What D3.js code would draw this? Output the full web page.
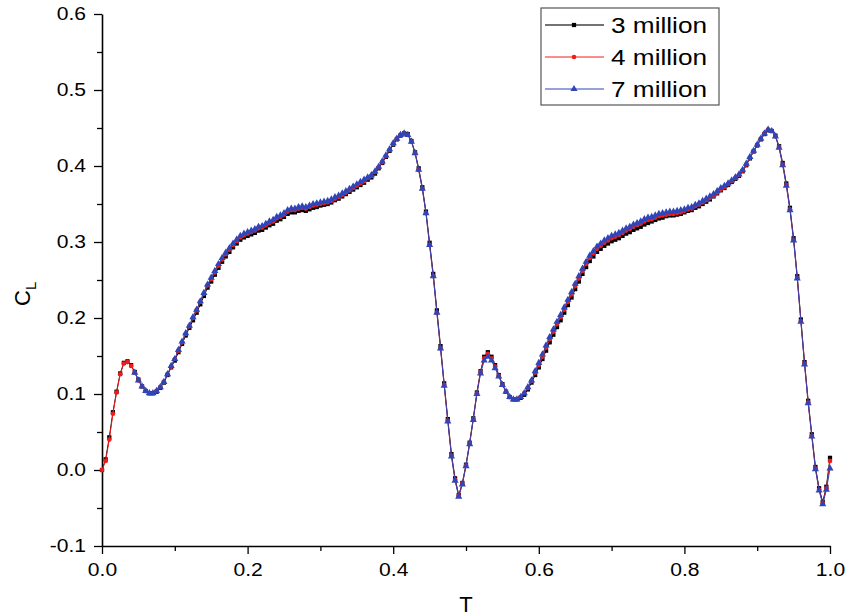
<!DOCTYPE html>
<html>
<head>
<meta charset="utf-8">
<script src="https://cdn.jsdelivr.net/npm/d3@7"></script>
<style>
  html, body { margin: 0; padding: 0; background: #fff; }
  svg { display: block; }
  text { font-family: "Liberation Sans", Arial, sans-serif; fill: #000; }
</style>
</head>
<body>
<svg id="chart" width="848" height="616"></svg>
<script>
// Lift coefficient over one period, sampled every 0.005 T
const timeStep = 0.005;
const tValues = d3.range(0, 201).map(i => +(i * timeStep).toFixed(3));

const cl3Million = [
  0.000,0.014,0.043,0.076,0.103,0.127,0.141,0.143,0.138,0.129,0.119,0.110,0.104,0.101,0.101,0.103,0.108,0.115,0.125,0.135,
  0.144,0.155,0.166,0.177,0.187,0.197,0.207,0.218,0.229,0.240,0.248,0.257,0.266,0.274,0.281,0.287,0.293,0.298,0.303,0.306,
  0.308,0.310,0.312,0.315,0.316,0.319,0.322,0.324,0.328,0.330,0.333,0.337,0.339,0.339,0.341,0.342,0.341,0.343,0.345,0.346,
  0.348,0.349,0.350,0.352,0.355,0.357,0.360,0.363,0.366,0.369,0.372,0.375,0.378,0.382,0.385,0.390,0.397,0.404,0.412,0.420,
  0.428,0.435,0.440,0.443,0.442,0.433,0.418,0.397,0.372,0.340,0.299,0.258,0.210,0.163,0.114,0.067,0.021,-0.011,-0.033,-0.017,
  0.007,0.036,0.068,0.102,0.130,0.149,0.155,0.149,0.138,0.125,0.113,0.103,0.096,0.093,0.093,0.095,0.099,0.106,0.115,0.125,
  0.135,0.146,0.157,0.168,0.178,0.188,0.197,0.207,0.217,0.227,0.238,0.248,0.258,0.267,0.275,0.281,0.287,0.291,0.295,0.298,
  0.301,0.303,0.305,0.308,0.311,0.313,0.316,0.318,0.320,0.323,0.325,0.327,0.329,0.331,0.332,0.334,0.335,0.335,0.336,0.337,
  0.339,0.341,0.342,0.345,0.347,0.350,0.353,0.356,0.360,0.364,0.368,0.371,0.375,0.379,0.383,0.387,0.393,0.401,0.410,0.419,
  0.427,0.435,0.442,0.447,0.446,0.440,0.426,0.404,0.377,0.345,0.305,0.255,0.198,0.142,0.091,0.047,0.004,-0.024,-0.042,-0.022,
  0.016
];

const cl4Million = [
  0.000,0.012,0.040,0.074,0.102,0.126,0.140,0.142,0.137,0.128,0.118,0.110,0.104,0.101,0.101,0.104,0.109,0.116,0.126,0.136,
  0.146,0.157,0.168,0.179,0.189,0.200,0.210,0.221,0.232,0.243,0.251,0.260,0.269,0.277,0.284,0.290,0.296,0.301,0.306,0.309,
  0.311,0.313,0.315,0.318,0.319,0.322,0.325,0.327,0.331,0.333,0.336,0.340,0.342,0.342,0.344,0.345,0.344,0.346,0.348,0.349,
  0.350,0.351,0.352,0.354,0.357,0.359,0.362,0.365,0.368,0.371,0.374,0.377,0.380,0.384,0.387,0.392,0.398,0.405,0.413,0.421,
  0.429,0.436,0.441,0.443,0.441,0.432,0.417,0.395,0.370,0.338,0.296,0.255,0.207,0.160,0.112,0.065,0.019,-0.013,-0.034,-0.018,
  0.006,0.035,0.067,0.101,0.129,0.147,0.153,0.147,0.136,0.124,0.112,0.103,0.096,0.093,0.093,0.096,0.101,0.108,0.117,0.128,
  0.138,0.149,0.161,0.172,0.182,0.192,0.201,0.211,0.221,0.231,0.242,0.252,0.262,0.271,0.279,0.285,0.291,0.295,0.299,0.302,
  0.305,0.307,0.309,0.312,0.315,0.317,0.320,0.322,0.324,0.327,0.329,0.330,0.332,0.334,0.335,0.336,0.337,0.337,0.338,0.339,
  0.341,0.343,0.344,0.347,0.349,0.352,0.355,0.358,0.361,0.365,0.369,0.372,0.376,0.380,0.384,0.388,0.394,0.402,0.411,0.419,
  0.428,0.436,0.443,0.448,0.446,0.439,0.425,0.402,0.375,0.343,0.303,0.253,0.196,0.140,0.089,0.045,0.002,-0.026,-0.044,-0.024,
  0.012
];

// The 7 million run is recorded from T = 0.045 onwards
const cl7Million = [
  null,null,null,null,null,null,null,null,null,0.128,0.118,0.110,0.104,0.101,0.101,0.104,0.109,0.116,0.126,0.137,
  0.146,0.158,0.169,0.180,0.190,0.201,0.211,0.222,0.233,0.244,0.253,0.262,0.271,0.279,0.286,0.292,0.298,0.303,0.308,0.311,
  0.313,0.315,0.317,0.320,0.321,0.324,0.327,0.329,0.333,0.335,0.338,0.342,0.344,0.344,0.346,0.347,0.346,0.348,0.350,0.351,
  0.352,0.353,0.354,0.356,0.359,0.361,0.364,0.367,0.370,0.373,0.376,0.379,0.382,0.385,0.388,0.393,0.399,0.406,0.414,0.422,
  0.430,0.436,0.441,0.443,0.441,0.432,0.417,0.395,0.370,0.338,0.296,0.255,0.207,0.160,0.111,0.064,0.018,-0.014,-0.035,-0.019,
  0.005,0.034,0.066,0.100,0.127,0.144,0.149,0.144,0.134,0.123,0.112,0.103,0.096,0.093,0.093,0.096,0.101,0.109,0.118,0.130,
  0.141,0.152,0.164,0.175,0.185,0.195,0.204,0.214,0.224,0.234,0.245,0.255,0.265,0.274,0.282,0.288,0.294,0.298,0.302,0.305,
  0.308,0.310,0.312,0.315,0.318,0.320,0.323,0.325,0.327,0.330,0.332,0.333,0.335,0.337,0.338,0.339,0.340,0.340,0.341,0.342,
  0.343,0.345,0.346,0.349,0.351,0.354,0.357,0.360,0.363,0.367,0.371,0.374,0.377,0.381,0.385,0.389,0.395,0.403,0.412,0.420,
  0.428,0.436,0.443,0.448,0.446,0.439,0.424,0.401,0.374,0.342,0.302,0.252,0.195,0.139,0.088,0.044,0.001,-0.027,-0.045,-0.026,
  0.002
];

const seriesNames = ["3 million", "4 million", "7 million"];
const seriesColors = ["#000000", "#f01c1c", "#2f45b8"];
const seriesMarkers = ["square", "circle", "triangle"];
const seriesValues = [cl3Million, cl4Million, cl7Million];

const xMajorTicks = [0.0, 0.2, 0.4, 0.6, 0.8, 1.0];
const xMinorTicks = [0.1, 0.3, 0.5, 0.7, 0.9];
const yMajorTicks = [-0.1, 0.0, 0.1, 0.2, 0.3, 0.4, 0.5, 0.6];
const yMinorTicks = [-0.05, 0.05, 0.15, 0.25, 0.35, 0.45, 0.55];

const svg = d3.select("#chart");
const plot = { left: 102, right: 830, top: 14, bottom: 546 };

const x = d3.scaleLinear().domain([0, 1]).range([plot.left, plot.right]);
const y = d3.scaleLinear().domain([-0.1, 0.6]).range([plot.bottom, plot.top]);

// One decimal, plain hyphen for negatives
const fmt = d => d3.format(".1f")(d).replace("\u2212", "-");

// Glyphs in this figure run a little wide; stretch text horizontally
function widen(sel, k) {
  sel.each(function () {
    const w = this.getComputedTextLength();
    this.setAttribute("textLength", (w * k).toFixed(1));
    this.setAttribute("lengthAdjust", "spacingAndGlyphs");
  });
}

// Axes
const xAxis = svg.append("g")
  .attr("transform", `translate(0,${plot.bottom})`)
  .call(d3.axisBottom(x).tickValues(xMajorTicks).tickSize(8).tickSizeOuter(0).tickPadding(9)
    .tickFormat(fmt));
svg.append("g")
  .attr("transform", `translate(0,${plot.bottom})`)
  .call(d3.axisBottom(x).tickValues(xMinorTicks).tickSize(5).tickFormat(""))
  .call(g => g.select(".domain").remove());

const yAxis = svg.append("g")
  .attr("transform", `translate(${plot.left},0)`)
  .call(d3.axisLeft(y).tickValues(yMajorTicks).tickSize(8).tickSizeOuter(0).tickPadding(8)
    .tickFormat(fmt));
svg.append("g")
  .attr("transform", `translate(${plot.left},0)`)
  .call(d3.axisLeft(y).tickValues(yMinorTicks).tickSize(5).tickFormat(""))
  .call(g => g.select(".domain").remove());

svg.selectAll(".domain").attr("stroke", "#000").attr("stroke-width", 1.6);
svg.selectAll(".tick line").attr("stroke", "#000").attr("stroke-width", 1.3);
svg.selectAll(".tick text")
  .attr("font-family", "Liberation Sans, Arial, sans-serif")
  .attr("font-size", 18)
  .attr("fill", "#111");
xAxis.selectAll(".tick text").call(widen, 1.17);
yAxis.selectAll(".tick text").call(widen, 1.17);

// Axis titles
svg.append("text")
  .attr("x", x(0.5)).attr("y", 612)
  .attr("text-anchor", "middle")
  .attr("font-size", 22)
  .text("T");

const clTitle = svg.append("text")
  .attr("transform", "translate(30,306) rotate(-90)")
  .attr("font-size", 22);
clTitle.append("tspan").text("C");
clTitle.append("tspan").attr("font-size", 15).attr("dy", 6).text("L");

// Marker shapes
function markerPath(kind) {
  if (kind === "square") return d3.symbol().type(d3.symbolSquare).size(18)();
  if (kind === "circle") return d3.symbol().type(d3.symbolCircle).size(17)();
  return d3.symbol().type(d3.symbolTriangle).size(22)();
}

const line = d3.line()
  .defined(d => d !== null)
  .x((d, i) => x(tValues[i]))
  .y(d => y(d));

// Series: lines with markers, drawn 3 → 4 → 7 million
seriesValues.forEach((vals, s) => {
  const g = svg.append("g").attr("class", "series");
  g.append("path")
    .datum(vals)
    .attr("fill", "none")
    .attr("stroke", seriesColors[s])
    .attr("stroke-width", 1)
    .attr("d", line);
  const path = markerPath(seriesMarkers[s]);
  const pts = vals.map((v, i) => ({ t: tValues[i], v })).filter(p => p.v !== null);
  g.selectAll("path.mk")
    .data(pts)
    .join("path")
    .attr("class", "mk")
    .attr("d", path)
    .attr("fill", seriesColors[s])
    .attr("transform", p => `translate(${x(p.t)},${y(p.v)})`);
});

// Legend
const legend = svg.append("g").attr("class", "legend");
legend.append("rect")
  .attr("x", 541).attr("y", 8)
  .attr("width", 178).attr("height", 97)
  .attr("fill", "#fff")
  .attr("stroke", "#555")
  .attr("stroke-width", 1.2);

seriesNames.forEach((name, s) => {
  const cy = 25 + s * 32;
  legend.append("line")
    .attr("x1", 545).attr("x2", 604)
    .attr("y1", cy).attr("y2", cy)
    .attr("stroke", s === 0 ? "#444" : seriesColors[s])
    .attr("stroke-width", s === 0 ? 1.6 : 1);
  legend.append("path")
    .attr("d", markerPath(seriesMarkers[s]))
    .attr("fill", seriesColors[s])
    .attr("transform", `translate(574,${cy})`);
  legend.append("text")
    .attr("x", 611).attr("y", cy + 8)
    .attr("font-size", 22)
    .text(name)
    .call(widen, 1.19);
});
</script>
</body>
</html>
